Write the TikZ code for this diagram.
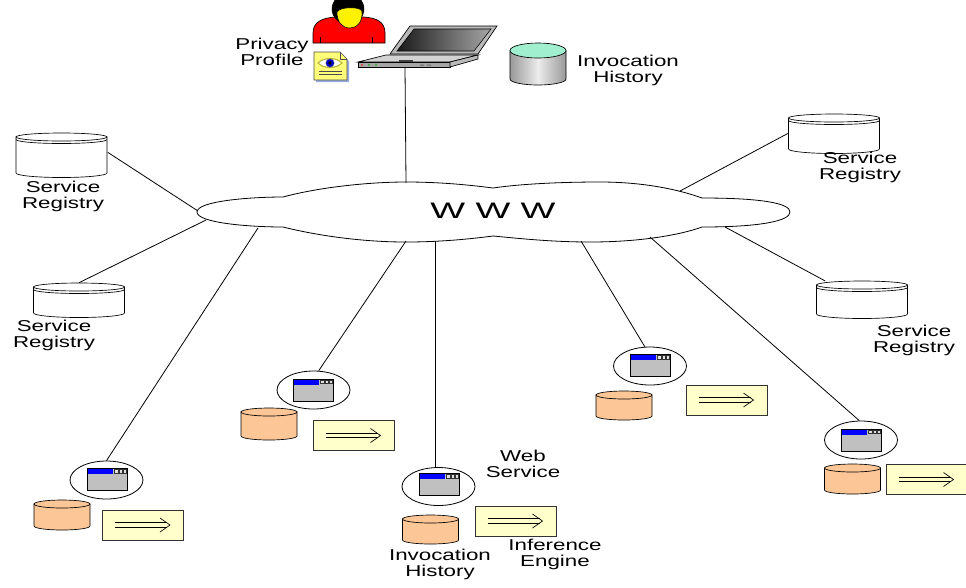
\documentclass[tikz,border=0pt]{standalone}
\usepackage{fontspec}
\setmainfont{Liberation Sans}
\usepackage{graphicx}
\usetikzlibrary{shapes.geometric}

\definecolor{peach}{RGB}{252,198,150}
\definecolor{paleyellow}{RGB}{255,255,204}
\definecolor{mint}{RGB}{160,240,208}
\definecolor{winblue}{RGB}{0,0,255}
\definecolor{wingray}{RGB}{192,192,192}
\definecolor{docshadow}{RGB}{150,170,230}

% widened sans text
\newcommand{\wt}[1]{\scalebox{1.42}[1]{#1}}

\tikzset{
  link/.style={line width=0.6pt, black},
  lbl/.style={align=center, font=\fontsize{11.8}{12}\selectfont, inner sep=0pt},
  wsring/.style={ellipse, draw, line width=0.6pt, fill=white,
    minimum width=54.75pt, minimum height=28.5pt, inner sep=0pt},
  enginebox/.style={draw=black!80, line width=0.6pt, fill=paleyellow,
    minimum width=60.75pt, minimum height=22.5pt, inner sep=0pt},
  regbox/.style={inner sep=0pt, minimum width=69pt, minimum height=#1},
  pics/window/.style={code={
    \filldraw[fill=wingray, draw=black, line width=0.5pt] (-20,-11) rectangle (20,11);
    \fill[winblue] (-19.6,-10.6) rectangle (6,-5.5);
    \foreach \i in {0,1,2}
      {\filldraw[fill=wingray!50, draw=black!80, line width=0.3pt]
        (7.5+4.2*\i,-10) rectangle (10.7+4.2*\i,-6.5);}
    \draw[line width=0.5pt] (-20,-11) rectangle (20,11);
  }},
  pics/ocyl/.style={code={
    \filldraw[fill=peach, draw=black, line width=0.5pt]
      (-28,-#1) -- (-28,#1) arc[start angle=180, end angle=0, x radius=28, y radius=4]
      -- (28,-#1) -- cycle;
    \filldraw[fill=peach, draw=black, line width=0.5pt] (0,-#1) ellipse[x radius=28, y radius=4];
  }},
  pics/regdb/.style={code={
    \filldraw[fill=white, draw=black, line width=0.5pt]
      (-45.5,-#1) -- (-45.5,#1) arc[start angle=180, end angle=0, x radius=45.5, y radius=4.5]
      -- (45.5,-#1) -- cycle;
    \filldraw[fill=white, draw=black, line width=0.5pt] (0,-#1) ellipse[x radius=45.5, y radius=4];
    \draw[line width=0.5pt] (-45.5,-#1+2.5) arc[start angle=180, end angle=0, x radius=45.5, y radius=4];
  }},
  pics/implies/.style={code={
    \draw[line width=0.5pt] (-28,-2.3) -- (24,-2.3) (-28,2.3) -- (24,2.3);
    \draw[line width=0.5pt] (17,-7) -- (27,0) -- (17,7);
  }},
}

\begin{document}
\begin{tikzpicture}[x=0.75pt, y=-0.75pt]
\useasboundingbox (0,0) rectangle (966,587);

% ---------- points on the WWW cloud outline ----------
\coordinate (cTop) at (406,183);
\coordinate (cSR1) at (198,211);
\coordinate (cSR2) at (206,220);
\coordinate (cSR3) at (680,191);
\coordinate (cSR4) at (725,227);
\coordinate (cA) at (258,228);
\coordinate (cB) at (406,241);
\coordinate (cC) at (435,241);
\coordinate (cD) at (581,241);
\coordinate (cE) at (650,237);

% ---------- WWW cloud ----------
\filldraw[fill=white, draw=black, line width=0.6pt]
  (197,212) .. controls (197,201) and (250,197) .. (283,197)
  .. controls (320,187) and (370,182) .. (406,182)
  .. controls (440,182) and (470,185) .. (493,188)
  .. controls (520,184) and (560,182) .. (600,182)
  .. controls (645,182) and (680,190) .. (702,198)
  .. controls (760,198) and (790,203) .. (790,212)
  .. controls (790,221) and (760,227) .. (702,227)
  .. controls (680,235) and (640,242) .. (590,242)
  .. controls (550,242) and (515,238) .. (493,236)
  .. controls (470,239) and (440,242) .. (406,242)
  .. controls (360,242) and (315,235) .. (283,227)
  .. controls (250,227) and (197,223) .. cycle;
\node[inner sep=0pt] (www) at (493,211)
  {\fontsize{16.8}{20}\selectfont\scalebox{1.65}[1]{W W W}};

% ---------- user, privacy profile, laptop ----------
% body
\filldraw[fill=red, draw=black, line width=0.5pt]
  (313,43) -- (313,33) .. controls (313,22) and (322,18) .. (335,17)
  -- (364,17) .. controls (377,18) and (385,22) .. (385,33) -- (385,43) -- cycle;
\draw[line width=0.5pt] (320,37) -- (320,43) (372,37) -- (372,43);
% head and hair
\filldraw[fill=black] (348,9) ellipse[x radius=16, y radius=15];
\filldraw[fill=yellow, draw=black, line width=0.4pt]
  (337,12) .. controls (339,7) and (359,6) .. (362,11)
  .. controls (363,23) and (356,28) .. (350,28)
  .. controls (342,28) and (337,22) .. cycle;
% profile document
\fill[docshadow] (316,54) -- (342,54) -- (349,61) -- (349,82) -- (316,82) -- cycle;
\filldraw[fill=paleyellow!60!yellow, draw=black!70, line width=0.4pt]
  (314,52) -- (340,52) -- (347,59) -- (347,80) -- (314,80) -- cycle;
\draw[black!70, line width=0.4pt] (340,52) -- (340,59) -- (347,59);
\filldraw[fill=white, draw=yellow!70!black, line width=0.8pt]
  (318,63) .. controls (324,57) and (336,57) .. (342,63)
  .. controls (336,69) and (324,69) .. cycle;
\filldraw[fill=blue!80!black, draw=black!60, line width=0.3pt] (330,63) circle[radius=4.2];
\fill[black] (330,63) circle[radius=1.8];
\draw[black!70, line width=0.6pt] (319,71) -- (342,71) (319,74.5) -- (342,74.5);
\node[lbl] (privacy) at (272,52) {\wt{Privacy}\\\wt{Profile}};

% laptop
\node[inner sep=0pt, minimum width=90pt, minimum height=31pt] (laptop) at (418,46.5) {};
\filldraw[fill=gray!55, draw=black, line width=0.5pt]
  (390,54) -- (410,26) -- (497,26) -- (478,54) -- cycle;
\shade[left color=black!90, right color=black!35]
  (397,51) -- (414,29) -- (491,29) -- (474,51) -- cycle;
\draw[black, line width=0.4pt] (397,51) -- (414,29) -- (491,29) -- (474,51) -- cycle;
\filldraw[fill=gray!35, draw=black, line width=0.5pt]
  (358,62) -- (450,62) -- (478,55) -- (386,55) -- cycle;
\filldraw[fill=gray!70, draw=black, line width=0.5pt]
  (358,62) -- (450,62) -- (450,67) -- (358,67) -- cycle;
\filldraw[fill=gray!55, draw=black, line width=0.5pt]
  (450,62) -- (478,55) -- (478,59) -- (450,67) -- cycle;
\fill[black!75] (399,59.5) rectangle (413,61.5);
\fill[red] (362,65) circle[radius=0.9];
\fill[green!70!black] (369,65) circle[radius=0.9] (376,65) circle[radius=0.9];
\fill[black!60] (420,64.5) rectangle (424,65.5) (427,64.5) rectangle (431,65.5);
\coordinate (lapfoot) at (405,67);
\draw[link] (lapfoot) -- (cTop);

% invocation history store
\node[inner sep=0pt, minimum width=42pt, minimum height=31.5pt] (histtop) at (538,64) {};
\shade[left color=gray!80, right color=gray!80, middle color=gray!15]
  (510,50.5) -- (510,79) arc[start angle=180, end angle=0, x radius=28, y radius=6] -- (566,50.5) -- cycle;
\draw[line width=0.5pt]
  (510,50.5) -- (510,79) arc[start angle=180, end angle=0, x radius=28, y radius=6] -- (566,50.5);
\filldraw[fill=mint, draw=black, line width=0.5pt] (538,50.5) ellipse[x radius=28, y radius=7.5];
\node[lbl] (histtoplbl) at (628,70) {\wt{Invocation}\\\wt{History}};

% ---------- service registries ----------
\node[regbox=33pt] (sr1) at (61.5,155) {};
\pic at (61.5,155) {regdb=18};
\node[lbl] (sr1lbl) at (63,196.5) {\wt{Service}\\\wt{Registry}};

\node[regbox=25.5pt] (sr2) at (79,300) {};
\pic at (79,300) {regdb=13};
\node[lbl] (sr2lbl) at (54,335) {\wt{Service}\\\wt{Registry}};

\node[regbox=29pt] (sr3) at (834,133.5) {};
\pic at (834,133.5) {regdb=15.5};
\node[lbl] (sr3lbl) at (860,167) {\wt{Service}\\\wt{Registry}};

\node[regbox=27.5pt] (sr4) at (862,299.5) {};
\pic at (862,299.5) {regdb=14.5};
\node[lbl] (sr4lbl) at (914,340) {\wt{Service}\\\wt{Registry}};

\draw[link] (cSR1) -- ([yshift=2pt]sr1.east);
\draw[link] (cSR2) -- (sr2.north);
\draw[link] (cSR3) -- (sr3.west);
\draw[link] (cSR4) -- ([xshift=7pt]sr4.north west);

% ---------- web services ----------
% A
\node[wsring] (wsA) at (106.5,480) {};
\pic at (107,479.5) {window};
\pic at (62,515) {ocyl=11};
\node[enginebox] (engA) at (143,525) {};
\pic at (143,525) {implies};
\draw[link] (cA) -- (wsA.north);
% B
\node[wsring] (wsB) at (313.5,390) {};
\pic at (313,390) {window};
\pic at (269,424) {ocyl=12};
\node[enginebox] (engB) at (353.5,435.5) {};
\pic at (353.5,435.5) {implies};
\draw[link] (cB) -- (wsB.75);
% C
\node[wsring] (wsC) at (438.5,486.5) {};
\pic at (439,484.5) {window};
\pic at (430.5,529.5) {ocyl=10.5};
\node[enginebox] (engC) at (515.5,521) {};
\pic at (515.5,521) {implies};
\draw[link] (cC) -- (cC |- wsC.north);
\node[lbl] (wsClbl) at (523,463.5) {\wt{Web}\\\wt{Service}};
\node[lbl] (histlbl) at (440,564) {\wt{Invocation}\\\wt{History}};
\node[lbl] (englbl) at (555,554) {\wt{Inference}\\\wt{Engine}};
% D
\node[wsring] (wsD) at (650,366) {};
\pic at (650,365.5) {window};
\pic at (624,405.5) {ocyl=10.5};
\node[enginebox] (engD) at (726.5,400) {};
\pic at (726.5,400) {implies};
\draw[link] (cD) -- (wsD.105);
% E
\node[wsring] (wsE) at (861,440) {};
\pic at (861,440) {window};
\pic at (852.5,479) {ocyl=11};
\node[enginebox] (engE) at (926.5,479.5) {};
\pic at (926.5,479.5) {implies};
\draw[link] (cE) -- (wsE.95);

\end{tikzpicture}
\end{document}
